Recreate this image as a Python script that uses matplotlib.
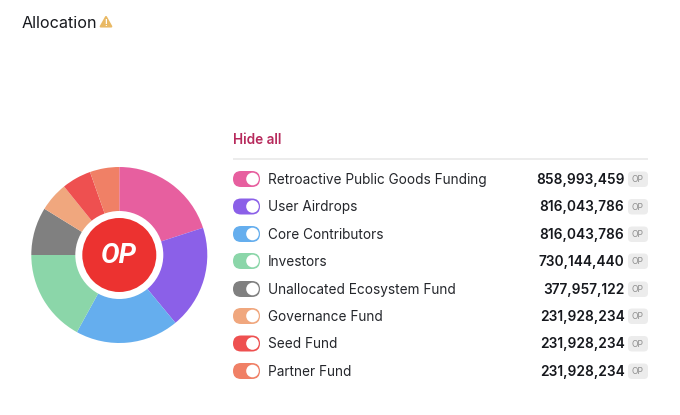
import matplotlib
matplotlib.use("Agg")
import matplotlib.pyplot as plt
from matplotlib.patches import FancyBboxPatch, Circle, Polygon

plt.rcParams['font.family'] = ['Inter', 'DejaVu Sans']

categories = ['Retroactive Public Goods Funding', 'User Airdrops', 'Core Contributors',
              'Investors', 'Unallocated Ecosystem Fund', 'Governance Fund',
              'Seed Fund', 'Partner Fund']
amounts = [858993459, 816043786, 816043786, 730144440,
           377957122, 231928234, 231928234, 231928234]
colors = ['#e75f9f', '#8b60e8', '#65aeee', '#8bd6a9',
          '#808080', '#f0a77e', '#ee5050', '#f08066']
row_y = [179, 206.5, 234, 261, 289, 316, 343.5, 371]

W, H = 680, 415
fig = plt.figure(figsize=(W / 100, H / 100), dpi=100)

# overlay in pixel coords, y goes down like in the screenshot
ax = fig.add_axes([0, 0, 1, 1])
ax.set_xlim(0, W)
ax.set_ylim(H, 0)
ax.axis('off')

# donut
cx, cy, r = 119.3, 255, 88
pie_ax = fig.add_axes([(cx - r) / W, 1 - (cy + r) / H, 2 * r / W, 2 * r / H])
pie_ax.pie(amounts, colors=colors, startangle=90, counterclock=False, radius=1,
           wedgeprops={'linewidth': 0})
pie_ax.set_xlim(-1, 1)
pie_ax.set_ylim(-1, 1)
pie_ax.add_patch(Circle((0, 0), 44 / r, color='white', lw=0))
pie_ax.add_patch(Circle((0, 0), 37 / r, color='#ec3230', lw=0))
pie_ax.text(0, 0, 'OP', color='white', fontsize=20, fontweight='bold', style='italic',
            family='Roboto', ha='center', va='center')

# title + warning icon
ax.text(22, 23, 'Allocation', fontsize=11.6, color='#16181d', va='center', ha='left')
ax.add_patch(Polygon([(106, 17), (111.3, 26.5), (100.7, 26.5)], closed=True, facecolor='#e9b964',
                     edgecolor='#e9b964', lw=1.5, joinstyle='round'))
ax.text(106, 23, '!', fontsize=6, color='white', fontweight='bold', ha='center', va='center')

ax.text(233, 140, 'Hide all', fontsize=9.8, fontweight='semibold', color='#b72a5c',
        va='center', ha='left')
ax.plot([233, 648], [159, 159], color='#e9e9e9', lw=1.2, solid_capstyle='butt')

for name, amount, col, y in zip(categories, amounts, colors, row_y):
    # toggle
    ax.add_patch(FancyBboxPatch((233 + 8, y), 11, 0, boxstyle='round,pad=8,rounding_size=8',
                                facecolor=col, edgecolor='none'))
    ax.add_patch(Circle((252.5, y), 6.3, facecolor='white', edgecolor='none'))
    ax.text(268, y + 0.8, name, fontsize=9.8, color='#24262b', va='center', ha='left')
    ax.text(624.5, y + 0.8, f'{amount:,}', fontsize=9.9, fontweight='semibold', color='#16181d',
            va='center', ha='right')
    # OP chip
    ax.add_patch(FancyBboxPatch((632, y - 3.5), 12, 7.5, boxstyle='round,pad=4,rounding_size=4',
                                facecolor='#ececec', edgecolor='none'))
    ax.text(638, y + 0.5, 'OP', fontsize=6.2, color='#8e8e8e', va='center', ha='center')

fig.savefig('out.png', dpi=100)
